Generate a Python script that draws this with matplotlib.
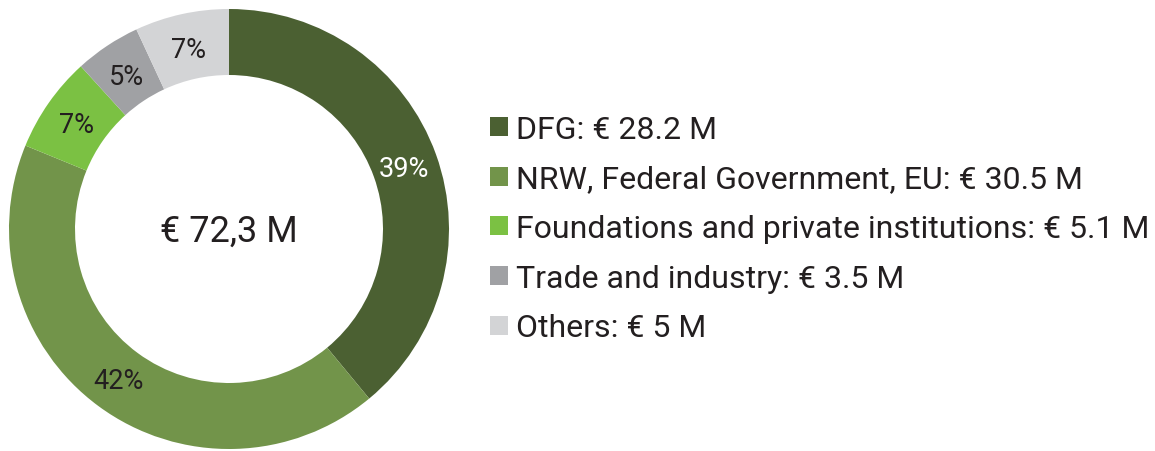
import numpy as np
import matplotlib.pyplot as plt
from matplotlib.patches import Patch

plt.rcParams['font.family'] = ['Roboto', 'DejaVu Sans']

# funding sources (million euro)
sources = ['DFG', 'NRW, Federal Government, EU', 'Foundations and private institutions',
           'Trade and industry', 'Others']
amounts = [28.2, 30.5, 5.1, 3.5, 5]
amount_labels = ['28.2', '30.5', '5.1', '3.5', '5']
pct_labels = ['39%', '42%', '7%', '5%', '7%']
total_label = '€ 72,3 M'
colors = ['#4b6032', '#72944a', '#7bc143', '#a0a1a4', '#d3d4d6']
pct_colors = ['white', '#231f20', '#231f20', '#231f20', '#231f20']
text_col = '#231f20'

fig = plt.figure(figsize=(11.55, 4.52), dpi=100)

# donut: center ~ (229, 230) px, outer radius ~220 px
ax = fig.add_axes([3/1155, -4/452, 452/1155, 452/452])
wedges, _ = ax.pie(amounts, colors=colors, startangle=90, counterclock=False,
                   radius=1, wedgeprops=dict(width=0.3, edgecolor='none'))
lim = 226/220
ax.set_xlim(-lim, lim)
ax.set_ylim(-lim, lim)
ax.set_aspect('equal')
ax.axis('off')

# percent labels in the middle of the ring
ang0 = 90
tot = sum(amounts)
for i, a in enumerate(amounts):
    mid = ang0 - (sum(amounts[:i]) + a/2) / tot * 360
    r = 0.845
    ax.text(r*np.cos(np.radians(mid)), r*np.sin(np.radians(mid)) - 0.01, pct_labels[i],
            ha='center', va='center', fontsize=19.5, color=pct_colors[i])

ax.text(0, -0.01, total_label, ha='center', va='center', fontsize=26, color=text_col)

handles = [Patch(facecolor=c, edgecolor='none') for c in colors]
labels = [f'{s}: € {v} M' for s, v in zip(sources, amount_labels)]
leg = fig.legend(handles, labels, loc='upper left', bbox_to_anchor=(490/1155, 1 - 116/452),
                 frameon=False, fontsize=23, handlelength=0.565, handleheight=0.53,
                 handletextpad=0.26, labelspacing=0.645, labelcolor=text_col,
                 borderpad=0, borderaxespad=0)

fig.savefig('out.png', dpi=100)
